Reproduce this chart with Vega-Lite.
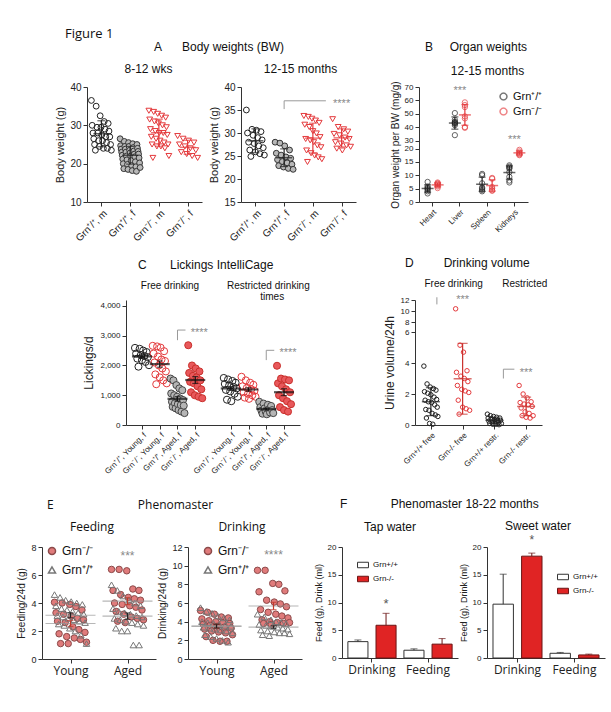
{
"$schema":"https://vega.github.io/schema/vega-lite/v6.json",
"autosize":"none",
"padding":{"left":41,"top":87,"right":570,"bottom":625},
"background":"white",
"config":{
 "view":{"stroke":null},
 "font":"Liberation Sans",
 "axis":{"grid":false,"domainColor":"#333","tickColor":"#333","labelColor":"#222","titleColor":"#222","labelFont":"Liberation Sans","titleFont":"Liberation Sans","titleFontWeight":"normal","tickSize":4,"labelPadding":2,"titlePadding":4,"labelOverlap":false},
 "title":{"font":"Liberation Sans","fontWeight":"normal","fontSize":12,"color":"#111","subtitleFont":"Liberation Sans","subtitleFontSize":10,"subtitleColor":"#111"},
 "legend":{"title":null,"labelFont":"Liberation Sans","labelColor":"#111"}
},
"title":{"text":"Figure 1","anchor":"start","frame":"group","dx":24,"offset":0,"font":"Open Sans","fontSize":13},
"datasets":{
 "bwYoung":[
  {"g":"Grn⁺/⁺, m","bw":36.5},{"g":"Grn⁺/⁺, m","bw":30},{"g":"Grn⁺/⁺, m","bw":28},{"g":"Grn⁺/⁺, m","bw":26.5},{"g":"Grn⁺/⁺, m","bw":25},{"g":"Grn⁺/⁺, m","bw":23.5},{"g":"Grn⁺/⁺, m","bw":35},{"g":"Grn⁺/⁺, m","bw":29.5},{"g":"Grn⁺/⁺, m","bw":28},{"g":"Grn⁺/⁺, m","bw":26},{"g":"Grn⁺/⁺, m","bw":24.5},{"g":"Grn⁺/⁺, m","bw":32.5},{"g":"Grn⁺/⁺, m","bw":29.5},{"g":"Grn⁺/⁺, m","bw":27.5},{"g":"Grn⁺/⁺, m","bw":26},{"g":"Grn⁺/⁺, m","bw":24},{"g":"Grn⁺/⁺, m","bw":31},{"g":"Grn⁺/⁺, m","bw":29},{"g":"Grn⁺/⁺, m","bw":27},{"g":"Grn⁺/⁺, m","bw":25.5},{"g":"Grn⁺/⁺, m","bw":24},{"g":"Grn⁺/⁺, m","bw":30.5},{"g":"Grn⁺/⁺, m","bw":28.5},{"g":"Grn⁺/⁺, m","bw":27},{"g":"Grn⁺/⁺, m","bw":25},{"g":"Grn⁺/⁺, m","bw":23.5},
  {"g":"Grn⁺/⁺, f","bw":26.5},{"g":"Grn⁺/⁺, f","bw":24.7},{"g":"Grn⁺/⁺, f","bw":23.8},{"g":"Grn⁺/⁺, f","bw":23},{"g":"Grn⁺/⁺, f","bw":22.2},{"g":"Grn⁺/⁺, f","bw":21.2},{"g":"Grn⁺/⁺, f","bw":20},{"g":"Grn⁺/⁺, f","bw":18.7},{"g":"Grn⁺/⁺, f","bw":25.8},{"g":"Grn⁺/⁺, f","bw":24.5},{"g":"Grn⁺/⁺, f","bw":23.8},{"g":"Grn⁺/⁺, f","bw":23},{"g":"Grn⁺/⁺, f","bw":22},{"g":"Grn⁺/⁺, f","bw":21},{"g":"Grn⁺/⁺, f","bw":19.8},{"g":"Grn⁺/⁺, f","bw":18.5},{"g":"Grn⁺/⁺, f","bw":25.5},{"g":"Grn⁺/⁺, f","bw":24.5},{"g":"Grn⁺/⁺, f","bw":23.5},{"g":"Grn⁺/⁺, f","bw":22.8},{"g":"Grn⁺/⁺, f","bw":22},{"g":"Grn⁺/⁺, f","bw":20.8},{"g":"Grn⁺/⁺, f","bw":19.5},{"g":"Grn⁺/⁺, f","bw":18.2},{"g":"Grn⁺/⁺, f","bw":25.2},{"g":"Grn⁺/⁺, f","bw":24.2},{"g":"Grn⁺/⁺, f","bw":23.3},{"g":"Grn⁺/⁺, f","bw":22.5},{"g":"Grn⁺/⁺, f","bw":21.8},{"g":"Grn⁺/⁺, f","bw":20.5},{"g":"Grn⁺/⁺, f","bw":19.2},{"g":"Grn⁺/⁺, f","bw":18},{"g":"Grn⁺/⁺, f","bw":25},{"g":"Grn⁺/⁺, f","bw":24},{"g":"Grn⁺/⁺, f","bw":23.2},{"g":"Grn⁺/⁺, f","bw":22.5},{"g":"Grn⁺/⁺, f","bw":21.5},{"g":"Grn⁺/⁺, f","bw":20.2},{"g":"Grn⁺/⁺, f","bw":19},
  {"g":"Grn⁻/⁻, m","bw":33.8},{"g":"Grn⁻/⁻, m","bw":31.5},{"g":"Grn⁻/⁻, m","bw":29},{"g":"Grn⁻/⁻, m","bw":27},{"g":"Grn⁻/⁻, m","bw":25},{"g":"Grn⁻/⁻, m","bw":21.5},{"g":"Grn⁻/⁻, m","bw":33.5},{"g":"Grn⁻/⁻, m","bw":31},{"g":"Grn⁻/⁻, m","bw":28.5},{"g":"Grn⁻/⁻, m","bw":26.5},{"g":"Grn⁻/⁻, m","bw":24.5},{"g":"Grn⁻/⁻, m","bw":33},{"g":"Grn⁻/⁻, m","bw":30.5},{"g":"Grn⁻/⁻, m","bw":28},{"g":"Grn⁻/⁻, m","bw":26},{"g":"Grn⁻/⁻, m","bw":24.5},{"g":"Grn⁻/⁻, m","bw":32.5},{"g":"Grn⁻/⁻, m","bw":30},{"g":"Grn⁻/⁻, m","bw":28},{"g":"Grn⁻/⁻, m","bw":25.5},{"g":"Grn⁻/⁻, m","bw":24},{"g":"Grn⁻/⁻, m","bw":32},{"g":"Grn⁻/⁻, m","bw":29.5},{"g":"Grn⁻/⁻, m","bw":27.5},{"g":"Grn⁻/⁻, m","bw":25},{"g":"Grn⁻/⁻, m","bw":22},
  {"g":"Grn⁻/⁻, f","bw":27.2},{"g":"Grn⁻/⁻, f","bw":25},{"g":"Grn⁻/⁻, f","bw":23},{"g":"Grn⁻/⁻, f","bw":26.5},{"g":"Grn⁻/⁻, f","bw":24.5},{"g":"Grn⁻/⁻, f","bw":22.5},{"g":"Grn⁻/⁻, f","bw":26},{"g":"Grn⁻/⁻, f","bw":24},{"g":"Grn⁻/⁻, f","bw":22},{"g":"Grn⁻/⁻, f","bw":25.5},{"g":"Grn⁻/⁻, f","bw":23.5},{"g":"Grn⁻/⁻, f","bw":21.5}
 ],
 "bwOld":[
  {"g":"Grn⁺/⁺, m","bw":35},{"g":"Grn⁺/⁺, m","bw":30},{"g":"Grn⁺/⁺, m","bw":28},{"g":"Grn⁺/⁺, m","bw":26.3},{"g":"Grn⁺/⁺, m","bw":24.9},{"g":"Grn⁺/⁺, m","bw":30.8},{"g":"Grn⁺/⁺, m","bw":29.5},{"g":"Grn⁺/⁺, m","bw":27.7},{"g":"Grn⁺/⁺, m","bw":25.9},{"g":"Grn⁺/⁺, m","bw":30.6},{"g":"Grn⁺/⁺, m","bw":29},{"g":"Grn⁺/⁺, m","bw":27.2},{"g":"Grn⁺/⁺, m","bw":25.5},{"g":"Grn⁺/⁺, m","bw":30.3},{"g":"Grn⁺/⁺, m","bw":28.5},{"g":"Grn⁺/⁺, m","bw":26.8},{"g":"Grn⁺/⁺, m","bw":25.2},
  {"g":"Grn⁺/⁺, f","bw":28},{"g":"Grn⁺/⁺, f","bw":25.6},{"g":"Grn⁺/⁺, f","bw":24.2},{"g":"Grn⁺/⁺, f","bw":22.9},{"g":"Grn⁺/⁺, f","bw":27.8},{"g":"Grn⁺/⁺, f","bw":25.2},{"g":"Grn⁺/⁺, f","bw":23.8},{"g":"Grn⁺/⁺, f","bw":22.6},{"g":"Grn⁺/⁺, f","bw":27.2},{"g":"Grn⁺/⁺, f","bw":24.8},{"g":"Grn⁺/⁺, f","bw":23.5},{"g":"Grn⁺/⁺, f","bw":22.3},{"g":"Grn⁺/⁺, f","bw":26.3},{"g":"Grn⁺/⁺, f","bw":24.5},{"g":"Grn⁺/⁺, f","bw":23.2},{"g":"Grn⁺/⁺, f","bw":22.1},
  {"g":"Grn⁻/⁻, m","bw":33.7},{"g":"Grn⁻/⁻, m","bw":31.8},{"g":"Grn⁻/⁻, m","bw":28.7},{"g":"Grn⁻/⁻, m","bw":26.2},{"g":"Grn⁻/⁻, m","bw":23.7},{"g":"Grn⁻/⁻, m","bw":33.5},{"g":"Grn⁻/⁻, m","bw":31.3},{"g":"Grn⁻/⁻, m","bw":28.4},{"g":"Grn⁻/⁻, m","bw":25.6},{"g":"Grn⁻/⁻, m","bw":33.1},{"g":"Grn⁻/⁻, m","bw":30.4},{"g":"Grn⁻/⁻, m","bw":28},{"g":"Grn⁻/⁻, m","bw":25.1},{"g":"Grn⁻/⁻, m","bw":32.7},{"g":"Grn⁻/⁻, m","bw":29.9},{"g":"Grn⁻/⁻, m","bw":27.3},{"g":"Grn⁻/⁻, m","bw":24.7},{"g":"Grn⁻/⁻, m","bw":32.2},{"g":"Grn⁻/⁻, m","bw":29.1},{"g":"Grn⁻/⁻, m","bw":26.9},{"g":"Grn⁻/⁻, m","bw":24.3},
  {"g":"Grn⁻/⁻, f","bw":33},{"g":"Grn⁻/⁻, f","bw":29.8},{"g":"Grn⁻/⁻, f","bw":28},{"g":"Grn⁻/⁻, f","bw":26.6},{"g":"Grn⁻/⁻, f","bw":31.3},{"g":"Grn⁻/⁻, f","bw":29.5},{"g":"Grn⁻/⁻, f","bw":27.7},{"g":"Grn⁻/⁻, f","bw":26.2},{"g":"Grn⁻/⁻, f","bw":30.8},{"g":"Grn⁻/⁻, f","bw":29},{"g":"Grn⁻/⁻, f","bw":27.3},{"g":"Grn⁻/⁻, f","bw":30.3},{"g":"Grn⁻/⁻, f","bw":28.7},{"g":"Grn⁻/⁻, f","bw":27}
 ],
 "organ":[
  {"organ":"Heart","geno":"Grn⁺/⁺","v":7.5},{"organ":"Heart","geno":"Grn⁺/⁺","v":5.8},{"organ":"Heart","geno":"Grn⁺/⁺","v":5.3},{"organ":"Heart","geno":"Grn⁺/⁺","v":5},{"organ":"Heart","geno":"Grn⁺/⁺","v":4.6},{"organ":"Heart","geno":"Grn⁺/⁺","v":4},{"organ":"Heart","geno":"Grn⁺/⁺","v":3.2},
  {"organ":"Heart","geno":"Grn⁻/⁻","v":7.3},{"organ":"Heart","geno":"Grn⁻/⁻","v":7},{"organ":"Heart","geno":"Grn⁻/⁻","v":6.8},{"organ":"Heart","geno":"Grn⁻/⁻","v":6.5},{"organ":"Heart","geno":"Grn⁻/⁻","v":6.2},{"organ":"Heart","geno":"Grn⁻/⁻","v":5.8},{"organ":"Heart","geno":"Grn⁻/⁻","v":5.2},
  {"organ":"Liver","geno":"Grn⁺/⁺","v":50.5},{"organ":"Liver","geno":"Grn⁺/⁺","v":45.5},{"organ":"Liver","geno":"Grn⁺/⁺","v":44},{"organ":"Liver","geno":"Grn⁺/⁺","v":43.5},{"organ":"Liver","geno":"Grn⁺/⁺","v":43},{"organ":"Liver","geno":"Grn⁺/⁺","v":42.5},{"organ":"Liver","geno":"Grn⁺/⁺","v":41.5},{"organ":"Liver","geno":"Grn⁺/⁺","v":34},
  {"organ":"Liver","geno":"Grn⁻/⁻","v":58.5},{"organ":"Liver","geno":"Grn⁻/⁻","v":56.5},{"organ":"Liver","geno":"Grn⁻/⁻","v":55},{"organ":"Liver","geno":"Grn⁻/⁻","v":48},{"organ":"Liver","geno":"Grn⁻/⁻","v":46.5},{"organ":"Liver","geno":"Grn⁻/⁻","v":40},{"organ":"Liver","geno":"Grn⁻/⁻","v":39.5},
  {"organ":"Spleen","geno":"Grn⁺/⁺","v":10.5},{"organ":"Spleen","geno":"Grn⁺/⁺","v":10},{"organ":"Spleen","geno":"Grn⁺/⁺","v":7},{"organ":"Spleen","geno":"Grn⁺/⁺","v":5.5},{"organ":"Spleen","geno":"Grn⁺/⁺","v":5},{"organ":"Spleen","geno":"Grn⁺/⁺","v":4.5},{"organ":"Spleen","geno":"Grn⁺/⁺","v":4},
  {"organ":"Spleen","geno":"Grn⁻/⁻","v":9},{"organ":"Spleen","geno":"Grn⁻/⁻","v":8.7},{"organ":"Spleen","geno":"Grn⁻/⁻","v":5.6},{"organ":"Spleen","geno":"Grn⁻/⁻","v":5},{"organ":"Spleen","geno":"Grn⁻/⁻","v":4.4},{"organ":"Spleen","geno":"Grn⁻/⁻","v":4.2},
  {"organ":"Kidneys","geno":"Grn⁺/⁺","v":13.7},{"organ":"Kidneys","geno":"Grn⁺/⁺","v":13.2},{"organ":"Kidneys","geno":"Grn⁺/⁺","v":12.8},{"organ":"Kidneys","geno":"Grn⁺/⁺","v":12.5},{"organ":"Kidneys","geno":"Grn⁺/⁺","v":11.2},{"organ":"Kidneys","geno":"Grn⁺/⁺","v":9.4},{"organ":"Kidneys","geno":"Grn⁺/⁺","v":8},{"organ":"Kidneys","geno":"Grn⁺/⁺","v":7.3},
  {"organ":"Kidneys","geno":"Grn⁻/⁻","v":19.5},{"organ":"Kidneys","geno":"Grn⁻/⁻","v":18.9},{"organ":"Kidneys","geno":"Grn⁻/⁻","v":18.4},{"organ":"Kidneys","geno":"Grn⁻/⁻","v":18.1},{"organ":"Kidneys","geno":"Grn⁻/⁻","v":17.8},{"organ":"Kidneys","geno":"Grn⁻/⁻","v":17.5}
 ],
 "lick":[
  {"g":"Grn⁺/⁺, Young, f|1","v":2590},{"g":"Grn⁺/⁺, Young, f|1","v":2400},{"g":"Grn⁺/⁺, Young, f|1","v":2230},{"g":"Grn⁺/⁺, Young, f|1","v":1960},{"g":"Grn⁺/⁺, Young, f|1","v":2560},{"g":"Grn⁺/⁺, Young, f|1","v":2350},{"g":"Grn⁺/⁺, Young, f|1","v":2180},{"g":"Grn⁺/⁺, Young, f|1","v":2500},{"g":"Grn⁺/⁺, Young, f|1","v":2320},{"g":"Grn⁺/⁺, Young, f|1","v":2120},{"g":"Grn⁺/⁺, Young, f|1","v":2450},{"g":"Grn⁺/⁺, Young, f|1","v":2280},{"g":"Grn⁺/⁺, Young, f|1","v":2010},
  {"g":"Grn⁻/⁻, Young, f|2","v":2660},{"g":"Grn⁻/⁻, Young, f|2","v":2400},{"g":"Grn⁻/⁻, Young, f|2","v":2100},{"g":"Grn⁻/⁻, Young, f|2","v":1700},{"g":"Grn⁻/⁻, Young, f|2","v":1370},{"g":"Grn⁻/⁻, Young, f|2","v":2640},{"g":"Grn⁻/⁻, Young, f|2","v":2300},{"g":"Grn⁻/⁻, Young, f|2","v":2000},{"g":"Grn⁻/⁻, Young, f|2","v":1600},{"g":"Grn⁻/⁻, Young, f|2","v":2600},{"g":"Grn⁻/⁻, Young, f|2","v":2200},{"g":"Grn⁻/⁻, Young, f|2","v":1900},{"g":"Grn⁻/⁻, Young, f|2","v":1500},{"g":"Grn⁻/⁻, Young, f|2","v":2480},{"g":"Grn⁻/⁻, Young, f|2","v":2150},{"g":"Grn⁻/⁻, Young, f|2","v":1800},{"g":"Grn⁻/⁻, Young, f|2","v":1400},
  {"g":"Grn⁺/⁺, Aged, f|3","v":1560},{"g":"Grn⁺/⁺, Aged, f|3","v":1060},{"g":"Grn⁺/⁺, Aged, f|3","v":780},{"g":"Grn⁺/⁺, Aged, f|3","v":610},{"g":"Grn⁺/⁺, Aged, f|3","v":1500},{"g":"Grn⁺/⁺, Aged, f|3","v":1000},{"g":"Grn⁺/⁺, Aged, f|3","v":730},{"g":"Grn⁺/⁺, Aged, f|3","v":560},{"g":"Grn⁺/⁺, Aged, f|3","v":1340},{"g":"Grn⁺/⁺, Aged, f|3","v":950},{"g":"Grn⁺/⁺, Aged, f|3","v":700},{"g":"Grn⁺/⁺, Aged, f|3","v":500},{"g":"Grn⁺/⁺, Aged, f|3","v":1230},{"g":"Grn⁺/⁺, Aged, f|3","v":890},{"g":"Grn⁺/⁺, Aged, f|3","v":670},{"g":"Grn⁺/⁺, Aged, f|3","v":450},{"g":"Grn⁺/⁺, Aged, f|3","v":1170},{"g":"Grn⁺/⁺, Aged, f|3","v":840},{"g":"Grn⁺/⁺, Aged, f|3","v":650},{"g":"Grn⁺/⁺, Aged, f|3","v":400},
  {"g":"Grn⁻/⁻, Aged, f|4","v":2680},{"g":"Grn⁻/⁻, Aged, f|4","v":1750},{"g":"Grn⁻/⁻, Aged, f|4","v":1450},{"g":"Grn⁻/⁻, Aged, f|4","v":1100},{"g":"Grn⁻/⁻, Aged, f|4","v":2000},{"g":"Grn⁻/⁻, Aged, f|4","v":1650},{"g":"Grn⁻/⁻, Aged, f|4","v":1400},{"g":"Grn⁻/⁻, Aged, f|4","v":1000},{"g":"Grn⁻/⁻, Aged, f|4","v":1900},{"g":"Grn⁻/⁻, Aged, f|4","v":1600},{"g":"Grn⁻/⁻, Aged, f|4","v":1300},{"g":"Grn⁻/⁻, Aged, f|4","v":950},{"g":"Grn⁻/⁻, Aged, f|4","v":1800},{"g":"Grn⁻/⁻, Aged, f|4","v":1500},{"g":"Grn⁻/⁻, Aged, f|4","v":1200},{"g":"Grn⁻/⁻, Aged, f|4","v":900},
  {"g":"Grn⁺/⁺, Young, f|5","v":1580},{"g":"Grn⁺/⁺, Young, f|5","v":1380},{"g":"Grn⁺/⁺, Young, f|5","v":1180},{"g":"Grn⁺/⁺, Young, f|5","v":850},{"g":"Grn⁺/⁺, Young, f|5","v":1530},{"g":"Grn⁺/⁺, Young, f|5","v":1330},{"g":"Grn⁺/⁺, Young, f|5","v":1130},{"g":"Grn⁺/⁺, Young, f|5","v":800},{"g":"Grn⁺/⁺, Young, f|5","v":1480},{"g":"Grn⁺/⁺, Young, f|5","v":1280},{"g":"Grn⁺/⁺, Young, f|5","v":1050},{"g":"Grn⁺/⁺, Young, f|5","v":1420},{"g":"Grn⁺/⁺, Young, f|5","v":1230},{"g":"Grn⁺/⁺, Young, f|5","v":950},
  {"g":"Grn⁻/⁻, Young, f|6","v":1620},{"g":"Grn⁻/⁻, Young, f|6","v":1300},{"g":"Grn⁻/⁻, Young, f|6","v":1100},{"g":"Grn⁻/⁻, Young, f|6","v":920},{"g":"Grn⁻/⁻, Young, f|6","v":1500},{"g":"Grn⁻/⁻, Young, f|6","v":1250},{"g":"Grn⁻/⁻, Young, f|6","v":1050},{"g":"Grn⁻/⁻, Young, f|6","v":880},{"g":"Grn⁻/⁻, Young, f|6","v":1420},{"g":"Grn⁻/⁻, Young, f|6","v":1200},{"g":"Grn⁻/⁻, Young, f|6","v":1000},{"g":"Grn⁻/⁻, Young, f|6","v":1350},{"g":"Grn⁻/⁻, Young, f|6","v":1150},{"g":"Grn⁻/⁻, Young, f|6","v":950},
  {"g":"Grn⁺/⁺, Aged, f|7","v":780},{"g":"Grn⁺/⁺, Aged, f|7","v":600},{"g":"Grn⁺/⁺, Aged, f|7","v":480},{"g":"Grn⁺/⁺, Aged, f|7","v":380},{"g":"Grn⁺/⁺, Aged, f|7","v":720},{"g":"Grn⁺/⁺, Aged, f|7","v":560},{"g":"Grn⁺/⁺, Aged, f|7","v":450},{"g":"Grn⁺/⁺, Aged, f|7","v":360},{"g":"Grn⁺/⁺, Aged, f|7","v":680},{"g":"Grn⁺/⁺, Aged, f|7","v":530},{"g":"Grn⁺/⁺, Aged, f|7","v":420},{"g":"Grn⁺/⁺, Aged, f|7","v":640},{"g":"Grn⁺/⁺, Aged, f|7","v":500},{"g":"Grn⁺/⁺, Aged, f|7","v":400},
  {"g":"Grn⁻/⁻, Aged, f|8","v":1990},{"g":"Grn⁻/⁻, Aged, f|8","v":1400},{"g":"Grn⁻/⁻, Aged, f|8","v":1000},{"g":"Grn⁻/⁻, Aged, f|8","v":600},{"g":"Grn⁻/⁻, Aged, f|8","v":1560},{"g":"Grn⁻/⁻, Aged, f|8","v":1300},{"g":"Grn⁻/⁻, Aged, f|8","v":900},{"g":"Grn⁻/⁻, Aged, f|8","v":500},{"g":"Grn⁻/⁻, Aged, f|8","v":1530},{"g":"Grn⁻/⁻, Aged, f|8","v":1200},{"g":"Grn⁻/⁻, Aged, f|8","v":800},{"g":"Grn⁻/⁻, Aged, f|8","v":450},{"g":"Grn⁻/⁻, Aged, f|8","v":1500},{"g":"Grn⁻/⁻, Aged, f|8","v":1100},{"g":"Grn⁻/⁻, Aged, f|8","v":700}
 ],
 "urine":[
  {"g":"Grn+/+ free","v":3.8},{"g":"Grn+/+ free","v":2.15},{"g":"Grn+/+ free","v":1.6},{"g":"Grn+/+ free","v":1.0},{"g":"Grn+/+ free","v":0.45},{"g":"Grn+/+ free","v":2.65},{"g":"Grn+/+ free","v":2.05},{"g":"Grn+/+ free","v":1.5},{"g":"Grn+/+ free","v":0.95},{"g":"Grn+/+ free","v":0.1},{"g":"Grn+/+ free","v":2.45},{"g":"Grn+/+ free","v":1.95},{"g":"Grn+/+ free","v":1.45},{"g":"Grn+/+ free","v":0.75},{"g":"Grn+/+ free","v":0.05},{"g":"Grn+/+ free","v":2.35},{"g":"Grn+/+ free","v":1.8},{"g":"Grn+/+ free","v":1.3},{"g":"Grn+/+ free","v":0.65},{"g":"Grn+/+ free","v":2.25},{"g":"Grn+/+ free","v":1.65},{"g":"Grn+/+ free","v":1.15},{"g":"Grn+/+ free","v":0.55},
  {"g":"Grn-/- free","v":10.4},{"g":"Grn-/- free","v":3.4},{"g":"Grn-/- free","v":2.55},{"g":"Grn-/- free","v":1.6},{"g":"Grn-/- free","v":0.7},{"g":"Grn-/- free","v":5.15},{"g":"Grn-/- free","v":3.15},{"g":"Grn-/- free","v":2.3},{"g":"Grn-/- free","v":1.15},{"g":"Grn-/- free","v":4.7},{"g":"Grn-/- free","v":3.0},{"g":"Grn-/- free","v":2.2},{"g":"Grn-/- free","v":1.05},{"g":"Grn-/- free","v":3.5},{"g":"Grn-/- free","v":2.8},{"g":"Grn-/- free","v":2.1},{"g":"Grn-/- free","v":0.95},
  {"g":"Grn+/+ restr.","v":0.7},{"g":"Grn+/+ restr.","v":0.45},{"g":"Grn+/+ restr.","v":0.25},{"g":"Grn+/+ restr.","v":0.1},{"g":"Grn+/+ restr.","v":0.6},{"g":"Grn+/+ restr.","v":0.4},{"g":"Grn+/+ restr.","v":0.2},{"g":"Grn+/+ restr.","v":0.05},{"g":"Grn+/+ restr.","v":0.55},{"g":"Grn+/+ restr.","v":0.35},{"g":"Grn+/+ restr.","v":0.2},{"g":"Grn+/+ restr.","v":0.05},{"g":"Grn+/+ restr.","v":0.5},{"g":"Grn+/+ restr.","v":0.3},{"g":"Grn+/+ restr.","v":0.15},{"g":"Grn+/+ restr.","v":0.02},{"g":"Grn+/+ restr.","v":0.45},{"g":"Grn+/+ restr.","v":0.3},{"g":"Grn+/+ restr.","v":0.1},
  {"g":"Grn-/- restr.","v":2.55},{"g":"Grn-/- restr.","v":1.45},{"g":"Grn-/- restr.","v":1.1},{"g":"Grn-/- restr.","v":0.6},{"g":"Grn-/- restr.","v":2.0},{"g":"Grn-/- restr.","v":1.35},{"g":"Grn-/- restr.","v":0.85},{"g":"Grn-/- restr.","v":0.5},{"g":"Grn-/- restr.","v":1.75},{"g":"Grn-/- restr.","v":1.3},{"g":"Grn-/- restr.","v":0.75},{"g":"Grn-/- restr.","v":0.45},{"g":"Grn-/- restr.","v":1.5},{"g":"Grn-/- restr.","v":1.2},{"g":"Grn-/- restr.","v":0.6}
 ],
 "eFeed":[
  {"age":"Young","geno":"Grn⁻/⁻","v":4.05},{"age":"Young","geno":"Grn⁻/⁻","v":3.3},{"age":"Young","geno":"Grn⁻/⁻","v":2.7},{"age":"Young","geno":"Grn⁻/⁻","v":1.8},{"age":"Young","geno":"Grn⁻/⁻","v":1.1},{"age":"Young","geno":"Grn⁻/⁻","v":4.0},{"age":"Young","geno":"Grn⁻/⁻","v":3.2},{"age":"Young","geno":"Grn⁻/⁻","v":2.6},{"age":"Young","geno":"Grn⁻/⁻","v":1.6},{"age":"Young","geno":"Grn⁻/⁻","v":1.1},{"age":"Young","geno":"Grn⁻/⁻","v":3.9},{"age":"Young","geno":"Grn⁻/⁻","v":3.05},{"age":"Young","geno":"Grn⁻/⁻","v":2.3},{"age":"Young","geno":"Grn⁻/⁻","v":1.5},{"age":"Young","geno":"Grn⁻/⁻","v":3.75},{"age":"Young","geno":"Grn⁻/⁻","v":2.9},{"age":"Young","geno":"Grn⁻/⁻","v":2.1},{"age":"Young","geno":"Grn⁻/⁻","v":1.4},{"age":"Young","geno":"Grn⁻/⁻","v":3.5},{"age":"Young","geno":"Grn⁻/⁻","v":2.8},{"age":"Young","geno":"Grn⁻/⁻","v":1.9},{"age":"Young","geno":"Grn⁻/⁻","v":1.2},
  {"age":"Young","geno":"Grn⁺/⁺","v":4.6},{"age":"Young","geno":"Grn⁺/⁺","v":3.8},{"age":"Young","geno":"Grn⁺/⁺","v":3.1},{"age":"Young","geno":"Grn⁺/⁺","v":2.5},{"age":"Young","geno":"Grn⁺/⁺","v":4.4},{"age":"Young","geno":"Grn⁺/⁺","v":3.6},{"age":"Young","geno":"Grn⁺/⁺","v":3.0},{"age":"Young","geno":"Grn⁺/⁺","v":2.4},{"age":"Young","geno":"Grn⁺/⁺","v":4.2},{"age":"Young","geno":"Grn⁺/⁺","v":3.5},{"age":"Young","geno":"Grn⁺/⁺","v":2.9},{"age":"Young","geno":"Grn⁺/⁺","v":2.2},{"age":"Young","geno":"Grn⁺/⁺","v":4.1},{"age":"Young","geno":"Grn⁺/⁺","v":3.4},{"age":"Young","geno":"Grn⁺/⁺","v":2.8},{"age":"Young","geno":"Grn⁺/⁺","v":2.0},{"age":"Young","geno":"Grn⁺/⁺","v":4.0},{"age":"Young","geno":"Grn⁺/⁺","v":3.3},{"age":"Young","geno":"Grn⁺/⁺","v":2.7},{"age":"Young","geno":"Grn⁺/⁺","v":1.7},{"age":"Young","geno":"Grn⁺/⁺","v":3.9},{"age":"Young","geno":"Grn⁺/⁺","v":3.2},{"age":"Young","geno":"Grn⁺/⁺","v":2.6},{"age":"Young","geno":"Grn⁺/⁺","v":1.1},
  {"age":"Aged","geno":"Grn⁻/⁻","v":6.4},{"age":"Aged","geno":"Grn⁻/⁻","v":4.9},{"age":"Aged","geno":"Grn⁻/⁻","v":4.0},{"age":"Aged","geno":"Grn⁻/⁻","v":3.4},{"age":"Aged","geno":"Grn⁻/⁻","v":2.7},{"age":"Aged","geno":"Grn⁻/⁻","v":6.4},{"age":"Aged","geno":"Grn⁻/⁻","v":4.6},{"age":"Aged","geno":"Grn⁻/⁻","v":3.9},{"age":"Aged","geno":"Grn⁻/⁻","v":3.2},{"age":"Aged","geno":"Grn⁻/⁻","v":2.6},{"age":"Aged","geno":"Grn⁻/⁻","v":6.3},{"age":"Aged","geno":"Grn⁻/⁻","v":4.4},{"age":"Aged","geno":"Grn⁻/⁻","v":3.8},{"age":"Aged","geno":"Grn⁻/⁻","v":3.0},{"age":"Aged","geno":"Grn⁻/⁻","v":5.0},{"age":"Aged","geno":"Grn⁻/⁻","v":4.3},{"age":"Aged","geno":"Grn⁻/⁻","v":3.7},{"age":"Aged","geno":"Grn⁻/⁻","v":2.9},{"age":"Aged","geno":"Grn⁻/⁻","v":4.9},{"age":"Aged","geno":"Grn⁻/⁻","v":4.2},{"age":"Aged","geno":"Grn⁻/⁻","v":3.5},{"age":"Aged","geno":"Grn⁻/⁻","v":2.8},
  {"age":"Aged","geno":"Grn⁺/⁺","v":5.3},{"age":"Aged","geno":"Grn⁺/⁺","v":3.6},{"age":"Aged","geno":"Grn⁺/⁺","v":2.9},{"age":"Aged","geno":"Grn⁺/⁺","v":2.2},{"age":"Aged","geno":"Grn⁺/⁺","v":4.9},{"age":"Aged","geno":"Grn⁺/⁺","v":3.4},{"age":"Aged","geno":"Grn⁺/⁺","v":2.8},{"age":"Aged","geno":"Grn⁺/⁺","v":2.0},{"age":"Aged","geno":"Grn⁺/⁺","v":4.5},{"age":"Aged","geno":"Grn⁺/⁺","v":3.3},{"age":"Aged","geno":"Grn⁺/⁺","v":2.7},{"age":"Aged","geno":"Grn⁺/⁺","v":2.0},{"age":"Aged","geno":"Grn⁺/⁺","v":4.2},{"age":"Aged","geno":"Grn⁺/⁺","v":3.2},{"age":"Aged","geno":"Grn⁺/⁺","v":2.6},{"age":"Aged","geno":"Grn⁺/⁺","v":1.0},{"age":"Aged","geno":"Grn⁺/⁺","v":4.0},{"age":"Aged","geno":"Grn⁺/⁺","v":3.1},{"age":"Aged","geno":"Grn⁺/⁺","v":2.5},{"age":"Aged","geno":"Grn⁺/⁺","v":1.0},{"age":"Aged","geno":"Grn⁺/⁺","v":3.8},{"age":"Aged","geno":"Grn⁺/⁺","v":3.0},{"age":"Aged","geno":"Grn⁺/⁺","v":2.4}
 ],
 "eDrink":[
  {"age":"Young","geno":"Grn⁻/⁻","v":5.2},{"age":"Young","geno":"Grn⁻/⁻","v":4.3},{"age":"Young","geno":"Grn⁻/⁻","v":3.7},{"age":"Young","geno":"Grn⁻/⁻","v":3.2},{"age":"Young","geno":"Grn⁻/⁻","v":2.4},{"age":"Young","geno":"Grn⁻/⁻","v":5.0},{"age":"Young","geno":"Grn⁻/⁻","v":4.1},{"age":"Young","geno":"Grn⁻/⁻","v":3.6},{"age":"Young","geno":"Grn⁻/⁻","v":3.0},{"age":"Young","geno":"Grn⁻/⁻","v":2.0},{"age":"Young","geno":"Grn⁻/⁻","v":4.8},{"age":"Young","geno":"Grn⁻/⁻","v":4.0},{"age":"Young","geno":"Grn⁻/⁻","v":3.5},{"age":"Young","geno":"Grn⁻/⁻","v":2.9},{"age":"Young","geno":"Grn⁻/⁻","v":1.9},{"age":"Young","geno":"Grn⁻/⁻","v":4.5},{"age":"Young","geno":"Grn⁻/⁻","v":3.9},{"age":"Young","geno":"Grn⁻/⁻","v":3.4},{"age":"Young","geno":"Grn⁻/⁻","v":2.8},{"age":"Young","geno":"Grn⁻/⁻","v":1.9},{"age":"Young","geno":"Grn⁻/⁻","v":4.4},{"age":"Young","geno":"Grn⁻/⁻","v":3.8},{"age":"Young","geno":"Grn⁻/⁻","v":3.3},{"age":"Young","geno":"Grn⁻/⁻","v":2.6},
  {"age":"Young","geno":"Grn⁺/⁺","v":5.5},{"age":"Young","geno":"Grn⁺/⁺","v":4.0},{"age":"Young","geno":"Grn⁺/⁺","v":3.4},{"age":"Young","geno":"Grn⁺/⁺","v":2.6},{"age":"Young","geno":"Grn⁺/⁺","v":5.1},{"age":"Young","geno":"Grn⁺/⁺","v":3.9},{"age":"Young","geno":"Grn⁺/⁺","v":3.3},{"age":"Young","geno":"Grn⁺/⁺","v":2.4},{"age":"Young","geno":"Grn⁺/⁺","v":4.9},{"age":"Young","geno":"Grn⁺/⁺","v":3.8},{"age":"Young","geno":"Grn⁺/⁺","v":3.2},{"age":"Young","geno":"Grn⁺/⁺","v":2.2},{"age":"Young","geno":"Grn⁺/⁺","v":4.6},{"age":"Young","geno":"Grn⁺/⁺","v":3.7},{"age":"Young","geno":"Grn⁺/⁺","v":3.1},{"age":"Young","geno":"Grn⁺/⁺","v":2.0},{"age":"Young","geno":"Grn⁺/⁺","v":4.4},{"age":"Young","geno":"Grn⁺/⁺","v":3.6},{"age":"Young","geno":"Grn⁺/⁺","v":3.0},{"age":"Young","geno":"Grn⁺/⁺","v":1.8},{"age":"Young","geno":"Grn⁺/⁺","v":4.2},{"age":"Young","geno":"Grn⁺/⁺","v":3.5},{"age":"Young","geno":"Grn⁺/⁺","v":2.8},
  {"age":"Aged","geno":"Grn⁻/⁻","v":9.5},{"age":"Aged","geno":"Grn⁻/⁻","v":7.2},{"age":"Aged","geno":"Grn⁻/⁻","v":5.3},{"age":"Aged","geno":"Grn⁻/⁻","v":4.2},{"age":"Aged","geno":"Grn⁻/⁻","v":3.8},{"age":"Aged","geno":"Grn⁻/⁻","v":9.5},{"age":"Aged","geno":"Grn⁻/⁻","v":6.3},{"age":"Aged","geno":"Grn⁻/⁻","v":5.0},{"age":"Aged","geno":"Grn⁻/⁻","v":4.0},{"age":"Aged","geno":"Grn⁻/⁻","v":3.7},{"age":"Aged","geno":"Grn⁻/⁻","v":8.1},{"age":"Aged","geno":"Grn⁻/⁻","v":6.1},{"age":"Aged","geno":"Grn⁻/⁻","v":4.8},{"age":"Aged","geno":"Grn⁻/⁻","v":3.9},{"age":"Aged","geno":"Grn⁻/⁻","v":8.0},{"age":"Aged","geno":"Grn⁻/⁻","v":5.9},{"age":"Aged","geno":"Grn⁻/⁻","v":4.6},{"age":"Aged","geno":"Grn⁻/⁻","v":3.8},{"age":"Aged","geno":"Grn⁻/⁻","v":7.3},{"age":"Aged","geno":"Grn⁻/⁻","v":5.6},{"age":"Aged","geno":"Grn⁻/⁻","v":4.4},{"age":"Aged","geno":"Grn⁻/⁻","v":3.9},
  {"age":"Aged","geno":"Grn⁺/⁺","v":4.8},{"age":"Aged","geno":"Grn⁺/⁺","v":3.7},{"age":"Aged","geno":"Grn⁺/⁺","v":3.1},{"age":"Aged","geno":"Grn⁺/⁺","v":2.6},{"age":"Aged","geno":"Grn⁺/⁺","v":4.5},{"age":"Aged","geno":"Grn⁺/⁺","v":3.6},{"age":"Aged","geno":"Grn⁺/⁺","v":3.0},{"age":"Aged","geno":"Grn⁺/⁺","v":2.5},{"age":"Aged","geno":"Grn⁺/⁺","v":4.2},{"age":"Aged","geno":"Grn⁺/⁺","v":3.5},{"age":"Aged","geno":"Grn⁺/⁺","v":2.9},{"age":"Aged","geno":"Grn⁺/⁺","v":4.0},{"age":"Aged","geno":"Grn⁺/⁺","v":3.4},{"age":"Aged","geno":"Grn⁺/⁺","v":2.8},{"age":"Aged","geno":"Grn⁺/⁺","v":3.9},{"age":"Aged","geno":"Grn⁺/⁺","v":3.3},{"age":"Aged","geno":"Grn⁺/⁺","v":2.8},{"age":"Aged","geno":"Grn⁺/⁺","v":3.8},{"age":"Aged","geno":"Grn⁺/⁺","v":3.2},{"age":"Aged","geno":"Grn⁺/⁺","v":2.7}
 ],
 "fTap":[
  {"cond":"Drinking","geno":"Grn+/+","v":2.95,"hi":3.25},{"cond":"Drinking","geno":"Grn-/-","v":5.9,"hi":8.05},{"cond":"Feeding","geno":"Grn+/+","v":1.4,"hi":1.65},{"cond":"Feeding","geno":"Grn-/-","v":2.5,"hi":3.5}
 ],
 "fSweet":[
  {"cond":"Drinking","geno":"Grn+/+","v":9.7,"hi":15.1},{"cond":"Drinking","geno":"Grn-/-","v":18.35,"hi":18.9},{"cond":"Feeding","geno":"Grn+/+","v":0.85,"hi":1.0},{"cond":"Feeding","geno":"Grn-/-","v":0.55,"hi":0.7}
 ]
},
"bounds":"flush",
"spacing":460,
"resolve":{"scale":{"color":"independent","fill":"independent","stroke":"independent","shape":"independent"},"legend":{"color":"independent","fill":"independent","stroke":"independent","shape":"independent"}},
"vconcat":[
 {"bounds":"flush","spacing":213,
  "resolve":{"scale":{"color":"independent","fill":"independent","stroke":"independent","shape":"independent"},"legend":{"color":"independent","fill":"independent","stroke":"independent","shape":"independent"}},
  "vconcat":[
  {"bounds":"flush","spacing":0,
   "resolve":{"scale":{"color":"independent","fill":"independent","stroke":"independent","shape":"independent"},"legend":{"color":"independent","fill":"independent","stroke":"independent","shape":"independent"}},
   "hconcat":[
   {"width":46,"height":115,"title":{"text":"A\u00a0\u00a0\u00a0\u00a0\u00a0\u00a0Body weights (BW)","anchor":"start","frame":"group","dx":113,"offset":33},"data":{"values":[{"a":1}]},"mark":{"type":"point","opacity":0},"encoding":{}},
   {"width":115,"height":115,
    "title":{"text":"8-12 wks","anchor":"middle","frame":"group","dx":4,"offset":6},
    "data":{"name":"bwYoung"},
    "transform":[{"window":[{"op":"row_number","as":"rn"}],"groupby":["g"]},{"window":[{"op":"percent_rank","as":"jit"}],"groupby":["g"],"sort":[{"field":"rn"}]}],
    "encoding":{
     "x":{"field":"g","type":"nominal","scale":{"type":"point","padding":0.5,"domain":["Grn⁺/⁺, m","Grn⁺/⁺, f","Grn⁻/⁻, m","Grn⁻/⁻, f"]},"axis":{"title":null,"labelAngle":-45,"labelFontSize":10}},
     "y":{"field":"bw","type":"quantitative","scale":{"domain":[10,40],"nice":false,"zero":false},"axis":{"values":[10,20,30,40],"title":"Body weight (g)","labelFontSize":10,"titleFontSize":11}}
    },
    "layer":[
     {"mark":{"type":"point","size":34,"strokeWidth":1,"opacity":1},
      "encoding":{
       "xOffset":{"field":"jit","type":"quantitative","scale":{"domain":[0,1],"range":[-10,10]}},
       "shape":{"field":"g","type":"nominal","scale":{"domain":["Grn⁺/⁺, m","Grn⁺/⁺, f","Grn⁻/⁻, m","Grn⁻/⁻, f"],"range":["circle","circle","triangle-down","triangle-down"]},"legend":null},
       "fill":{"field":"g","type":"nominal","scale":{"domain":["Grn⁺/⁺, m","Grn⁺/⁺, f","Grn⁻/⁻, m","Grn⁻/⁻, f"],"range":["transparent","#b8b8b8","transparent","transparent"]},"legend":null},
       "stroke":{"field":"g","type":"nominal","scale":{"domain":["Grn⁺/⁺, m","Grn⁺/⁺, f","Grn⁻/⁻, m","Grn⁻/⁻, f"],"range":["#222","#333","#e4393c","#e4393c"]},"legend":null}}},
     {"mark":{"type":"errorbar","extent":"stdev","ticks":{"size":8},"thickness":1.2},
      "encoding":{"color":{"field":"g","type":"nominal","scale":{"domain":["Grn⁺/⁺, m","Grn⁺/⁺, f","Grn⁻/⁻, m","Grn⁻/⁻, f"],"range":["#222","#222","#e4393c","#e4393c"]},"legend":null}}},
     {"transform":[{"aggregate":[{"op":"mean","field":"bw","as":"bw"}],"groupby":["g"]}],
      "mark":{"type":"tick","size":16,"thickness":1.5},
      "encoding":{"color":{"field":"g","type":"nominal","legend":null}}}
    ]},
   {"width":39,"height":115,"data":{"values":[{"a":1}]},"mark":{"type":"point","opacity":0},"encoding":{}},
   {"width":115,"height":115,
    "title":{"text":"12-15 months","anchor":"middle","frame":"group","dx":2,"offset":6},
    "data":{"name":"bwOld"},
    "transform":[{"window":[{"op":"row_number","as":"rn"}],"groupby":["g"]},{"window":[{"op":"percent_rank","as":"jit"}],"groupby":["g"],"sort":[{"field":"rn"}]}],
    "encoding":{
     "x":{"field":"g","type":"nominal","scale":{"type":"point","padding":0.5,"domain":["Grn⁺/⁺, m","Grn⁺/⁺, f","Grn⁻/⁻, m","Grn⁻/⁻, f"]},"axis":{"title":null,"labelAngle":-45,"labelFontSize":10}},
     "y":{"field":"bw","type":"quantitative","scale":{"domain":[15,40],"nice":false,"zero":false},"axis":{"values":[15,20,25,30,35,40],"title":"Body weight (g)","labelFontSize":10,"titleFontSize":11}}
    },
    "layer":[
     {"mark":{"type":"point","size":34,"strokeWidth":1,"opacity":1},
      "encoding":{
       "xOffset":{"field":"jit","type":"quantitative","scale":{"domain":[0,1],"range":[-9,9]}},
       "shape":{"field":"g","type":"nominal","scale":{"domain":["Grn⁺/⁺, m","Grn⁺/⁺, f","Grn⁻/⁻, m","Grn⁻/⁻, f"],"range":["circle","circle","triangle-down","triangle-down"]},"legend":null},
       "fill":{"field":"g","type":"nominal","scale":{"domain":["Grn⁺/⁺, m","Grn⁺/⁺, f","Grn⁻/⁻, m","Grn⁻/⁻, f"],"range":["transparent","#b8b8b8","transparent","transparent"]},"legend":null},
       "stroke":{"field":"g","type":"nominal","scale":{"domain":["Grn⁺/⁺, m","Grn⁺/⁺, f","Grn⁻/⁻, m","Grn⁻/⁻, f"],"range":["#222","#333","#e4393c","#e4393c"]},"legend":null}}},
     {"mark":{"type":"errorbar","extent":"stdev","ticks":{"size":8},"thickness":1.2},
      "encoding":{"color":{"field":"g","type":"nominal","scale":{"domain":["Grn⁺/⁺, m","Grn⁺/⁺, f","Grn⁻/⁻, m","Grn⁻/⁻, f"],"range":["#222","#222","#e4393c","#e4393c"]},"legend":null}}},
     {"transform":[{"aggregate":[{"op":"mean","field":"bw","as":"bw"}],"groupby":["g"]}],
      "mark":{"type":"tick","size":16,"thickness":1.5},
      "encoding":{"color":{"field":"g","type":"nominal","legend":null}}},
     {"data":{"values":[{"g":"Grn⁺/⁺, f","bw":37,"bw2":35.2}]},"mark":{"type":"rule","color":"#999","strokeWidth":1},"encoding":{"y2":{"field":"bw2"}}},
     {"data":{"values":[{"g":"Grn⁺/⁺, f","g2":"Grn⁻/⁻, m","bw":37}]},"mark":{"type":"rule","color":"#999","strokeWidth":1,"x2Offset":13},"encoding":{"x2":{"field":"g2"}}},
     {"data":{"values":[{"g":"Grn⁻/⁻, f","bw":37,"t":"****"}]},"mark":{"type":"text","color":"#888","fontSize":11,"baseline":"middle","dy":3},"encoding":{"text":{"field":"t"}}}
    ]},
   {"width":63,"height":115,"title":{"text":"B\u00a0\u00a0\u00a0\u00a0\u00a0Organ weights","anchor":"start","frame":"group","dx":69,"offset":33},"data":{"values":[{"a":1}]},"mark":{"type":"point","opacity":0},"encoding":{}},
   {"width":109,"height":115,
    "title":{"text":"12-15 months","anchor":"middle","frame":"group","dx":14,"offset":3},
    "data":{"name":"organ"},
    "encoding":{
     "x":{"field":"organ","type":"nominal","scale":{"domain":["Heart","Liver","Spleen","Kidneys"],"paddingInner":0,"paddingOuter":0},"axis":{"title":null,"labelAngle":-45,"labelFontSize":8}},
     "y":{"field":"v","type":"quantitative","scale":{"domain":[0,20,30,70],"range":[115,61.5,53.5,0],"nice":false,"zero":false},"axis":{"values":[0,5,10,15,20,30,40,50,60,70],"title":"Organ weight per BW (mg/g)","labelFontSize":8,"titleFontSize":10}}
    },
    "layer":[
     {"mark":{"type":"point","size":28,"strokeWidth":1,"shape":"circle","filled":false},
      "encoding":{
       "xOffset":{"field":"geno","type":"nominal","scale":{"domain":["Grn⁺/⁺","Grn⁻/⁻"],"paddingInner":0,"paddingOuter":0.36}},
       "color":{"field":"geno","type":"nominal","scale":{"domain":["Grn⁺/⁺","Grn⁻/⁻"],"range":["#222","#e4393c"]},
         "legend":{"orient":"none","legendX":79,"legendY":4,"symbolType":"M-1,0A1,1 0 1,1 1,0A1,1 0 1,1 -1,0Z M-0.78,0A0.78,0.78 0 1,0 0.78,0A0.78,0.78 0 1,0 -0.78,0Z","symbolSize":60,"symbolStrokeWidth":0.5,"labelFontSize":11,"rowPadding":3,"title":null}}}},
     {"mark":{"type":"errorbar","extent":"stdev","ticks":{"size":7},"thickness":1.2},
      "encoding":{
       "xOffset":{"field":"geno","type":"nominal","scale":{"domain":["Grn⁺/⁺","Grn⁻/⁻"],"paddingInner":0,"paddingOuter":0.36}},
       "color":{"field":"geno","type":"nominal","scale":{"domain":["Grn⁺/⁺","Grn⁻/⁻"],"range":["#222","#e4393c"]}}}},
     {"transform":[{"aggregate":[{"op":"mean","field":"v","as":"v"}],"groupby":["organ","geno"]}],
      "mark":{"type":"tick","size":12,"thickness":1.5},
      "encoding":{
       "xOffset":{"field":"geno","type":"nominal","scale":{"domain":["Grn⁺/⁺","Grn⁻/⁻"],"paddingInner":0,"paddingOuter":0.36}},
       "color":{"field":"geno","type":"nominal"}}},
     {"data":{"values":[{"organ":"Liver","v":69,"t":"***"},{"organ":"Kidneys","v":32.7,"t":"***"}]},
      "mark":{"type":"text","color":"#888","fontSize":11,"baseline":"middle","dy":3},"encoding":{"text":{"field":"t"}}}
    ]}
  ]},
  {"bounds":"flush","spacing":0,
   "resolve":{"scale":{"color":"independent","fill":"independent","stroke":"independent","shape":"independent"},"legend":{"color":"independent","fill":"independent","stroke":"independent","shape":"independent"}},
   "hconcat":[
   {"width":85,"height":125,"data":{"values":[{"a":1}]},"mark":{"type":"point","opacity":0},"encoding":{}},
   {"width":174,"height":125,
    "title":{"text":"C\u00a0\u00a0\u00a0\u00a0\u00a0\u00a0\u00a0Lickings IntelliCage",
     "subtitle":["\u200b\u00a0Free drinking\u00a0\u00a0\u00a0\u00a0\u00a0\u00a0\u00a0\u00a0\u00a0\u00a0Restricted drinking","\u200b\u00a0\u00a0\u00a0\u00a0\u00a0\u00a0\u00a0\u00a0\u00a0\u00a0\u00a0\u00a0\u00a0\u00a0\u00a0\u00a0\u00a0\u00a0\u00a0\u00a0\u00a0\u00a0\u00a0\u00a0\u00a0\u00a0\u00a0\u00a0\u00a0\u00a0\u00a0\u00a0\u00a0\u00a0\u00a0\u00a0\u00a0\u00a0\u00a0\u00a0\u00a0\u00a0\u00a0\u00a0times"],
     "anchor":"start","frame":"group","dx":12,"offset":-3,"subtitlePadding":9,"subtitleLineHeight":11},
    "data":{"name":"lick"},
    "transform":[{"window":[{"op":"row_number","as":"rn"}],"groupby":["g"]},{"window":[{"op":"percent_rank","as":"jit"}],"groupby":["g"],"sort":[{"field":"rn"}]}],
    "encoding":{
     "x":{"field":"g","type":"nominal","scale":{"type":"point","padding":0.9,"domain":["Grn⁺/⁺, Young, f|1","Grn⁻/⁻, Young, f|2","Grn⁺/⁺, Aged, f|3","Grn⁻/⁻, Aged, f|4","|sp","Grn⁺/⁺, Young, f|5","Grn⁻/⁻, Young, f|6","Grn⁺/⁺, Aged, f|7","Grn⁻/⁻, Aged, f|8"]},
       "axis":{"title":null,"values":["Grn⁺/⁺, Young, f|1","Grn⁻/⁻, Young, f|2","Grn⁺/⁺, Aged, f|3","Grn⁻/⁻, Aged, f|4","Grn⁺/⁺, Young, f|5","Grn⁻/⁻, Young, f|6","Grn⁺/⁺, Aged, f|7","Grn⁻/⁻, Aged, f|8"],"labelExpr":"split(datum.label,'|')[0]","labelAngle":-45,"labelFontSize":8}},
     "y":{"field":"v","type":"quantitative","scale":{"domain":[0,4200],"nice":false,"zero":true},"axis":{"values":[0,1000,2000,3000,4000],"title":"Lickings/d","labelFontSize":8,"titleFontSize":12}}
    },
    "layer":[
     {"mark":{"type":"point","size":50,"strokeWidth":1,"shape":"circle","opacity":1},
      "encoding":{
       "xOffset":{"field":"jit","type":"quantitative","scale":{"domain":[0,1],"range":[-7,7]}},
       "fill":{"field":"g","type":"nominal","scale":{"domain":["Grn⁺/⁺, Young, f|1","Grn⁻/⁻, Young, f|2","Grn⁺/⁺, Aged, f|3","Grn⁻/⁻, Aged, f|4","Grn⁺/⁺, Young, f|5","Grn⁻/⁻, Young, f|6","Grn⁺/⁺, Aged, f|7","Grn⁻/⁻, Aged, f|8"],"range":["transparent","transparent","#b5b5b5","#e8585b","transparent","transparent","#b5b5b5","#e8585b"]},"legend":null},
       "stroke":{"field":"g","type":"nominal","scale":{"domain":["Grn⁺/⁺, Young, f|1","Grn⁻/⁻, Young, f|2","Grn⁺/⁺, Aged, f|3","Grn⁻/⁻, Aged, f|4","Grn⁺/⁺, Young, f|5","Grn⁻/⁻, Young, f|6","Grn⁺/⁺, Aged, f|7","Grn⁻/⁻, Aged, f|8"],"range":["#222","#e4393c","#444","#c9302c","#222","#e4393c","#444","#c9302c"]},"legend":null}}},
     {"mark":{"type":"errorbar","extent":"stderr","ticks":{"size":6},"thickness":1.2,"color":"#111"}},
     {"transform":[{"aggregate":[{"op":"mean","field":"v","as":"v"}],"groupby":["g"]}],
      "mark":{"type":"tick","size":20,"thickness":2.2,"color":"#111"}},
     {"data":{"values":[{"g":"Grn⁺/⁺, Aged, f|3","v":3190,"v2":2850},{"g":"Grn⁺/⁺, Aged, f|7","v":2510,"v2":2180}]},
      "mark":{"type":"rule","color":"#999","strokeWidth":1},"encoding":{"y2":{"field":"v2"}}},
     {"data":{"values":[{"g":"Grn⁺/⁺, Aged, f|3","g2":"Grn⁺/⁺, Aged, f|3","v":3190},{"g":"Grn⁺/⁺, Aged, f|7","g2":"Grn⁺/⁺, Aged, f|7","v":2510}]},
      "mark":{"type":"rule","color":"#999","strokeWidth":1,"x2Offset":8},"encoding":{"x2":{"field":"g2"}}},
     {"data":{"values":[{"g":"Grn⁻/⁻, Aged, f|4","v":3190,"t":"****"},{"g":"Grn⁻/⁻, Aged, f|8","v":2510,"t":"****"}]},
      "mark":{"type":"text","color":"#888","fontSize":11,"baseline":"middle","dy":3,"dx":4},"encoding":{"text":{"field":"t"}}}
    ]},
   {"width":115,"height":125,"data":{"values":[{"a":1}]},"mark":{"type":"point","opacity":0},"encoding":{}},
   {"width":127,"height":125,
    "title":{"text":"D\u00a0\u00a0\u00a0\u00a0\u00a0\u00a0\u00a0\u00a0\u00a0Drinking volume",
     "subtitle":"\u200b\u00a0\u00a0\u00a0\u00a0\u00a0\u00a0\u00a0Free drinking\u00a0\u00a0\u00a0\u00a0\u00a0\u00a0\u00a0Restricted",
     "anchor":"start","frame":"group","dx":-10,"offset":4,"subtitlePadding":9},
    "data":{"name":"urine"},
    "transform":[{"window":[{"op":"row_number","as":"rn"}],"groupby":["g"]},{"window":[{"op":"percent_rank","as":"jit"}],"groupby":["g"],"sort":[{"field":"rn"}]}],
    "encoding":{
     "x":{"field":"g","type":"nominal","scale":{"type":"point","padding":0.5,"domain":["Grn+/+ free","Grn-/- free","Grn+/+ restr.","Grn-/- restr."]},"axis":{"title":null,"labelAngle":-45,"labelFontSize":8}},
     "y":{"field":"v","type":"quantitative","scale":{"domain":[0,6,8,12],"range":[125,32,22,0],"nice":false,"zero":false},"axis":{"values":[0,2,4,6,8,10,12],"title":"Urine volume/24h","labelFontSize":8,"titleFontSize":12}}
    },
    "layer":[
     {"mark":{"type":"point","size":20,"strokeWidth":1,"shape":"circle","fill":"transparent","opacity":1},
      "encoding":{
       "xOffset":{"field":"jit","type":"quantitative","scale":{"domain":[0,1],"range":[-8,8]}},
       "stroke":{"field":"g","type":"nominal","scale":{"domain":["Grn+/+ free","Grn-/- free","Grn+/+ restr.","Grn-/- restr."],"range":["#222","#e4393c","#222","#e4393c"]},"legend":null}}},
     {"mark":{"type":"errorbar","extent":"stdev","ticks":{"size":10},"thickness":1.2},
      "encoding":{"color":{"field":"g","type":"nominal","scale":{"domain":["Grn+/+ free","Grn-/- free","Grn+/+ restr.","Grn-/- restr."],"range":["#222","#c9302c","#222","#c9302c"]},"legend":null}}},
     {"transform":[{"aggregate":[{"op":"mean","field":"v","as":"v"}],"groupby":["g"]}],
      "mark":{"type":"tick","size":18,"thickness":1.5},
      "encoding":{"color":{"field":"g","type":"nominal","legend":null}}},
     {"data":{"values":[{"g":"Grn+/+ free","v":12.5,"v2":11.2}]},"mark":{"type":"rule","color":"#999","strokeWidth":1,"xOffset":6},"encoding":{"y2":{"field":"v2"}}},
     {"data":{"values":[{"g":"Grn+/+ restr.","v":3.6,"v2":3.0}]},"mark":{"type":"rule","color":"#999","strokeWidth":1,"xOffset":9},"encoding":{"y2":{"field":"v2"}}},
     {"data":{"values":[{"g":"Grn+/+ restr.","g2":"Grn+/+ restr.","v":3.6}]},"mark":{"type":"rule","color":"#999","strokeWidth":1,"xOffset":9,"x2Offset":20},"encoding":{"x2":{"field":"g2"}}},
     {"data":{"values":[{"g":"Grn-/- free","v":12.5,"t":"***"},{"g":"Grn-/- restr.","v":3.55,"t":"***"}]},
      "mark":{"type":"text","color":"#888","fontSize":11,"baseline":"middle","dy":3},"encoding":{"text":{"field":"t"}}}
    ]}
  ]}
 ]},
 {"bounds":"flush","spacing":0,
  "resolve":{"scale":{"color":"independent","fill":"independent","stroke":"independent","shape":"independent"},"legend":{"color":"independent","fill":"independent","stroke":"independent","shape":"independent"}},
  "hconcat":[
  {"width":1,"height":112,"title":{"text":"E\u00a0\u00a0\u00a0\u00a0\u00a0\u00a0\u00a0\u00a0\u00a0\u00a0\u00a0\u00a0\u00a0\u00a0\u00a0\u00a0\u00a0\u00a0\u00a0\u00a0\u00a0\u00a0\u00a0\u00a0\u00a0\u00a0\u00a0Phenomaster","anchor":"start","frame":"group","dx":6,"offset":35,"font":"Open Sans","fontSize":12},"data":{"values":[{"a":1}]},"mark":{"type":"point","opacity":0},"encoding":{}},
  {"width":114,"height":112,
   "title":{"text":"Feeding","font":"Open Sans","fontSize":12,"anchor":"middle","frame":"group","dx":-7,"offset":9},
   "data":{"name":"eFeed"},
   "transform":[{"window":[{"op":"row_number","as":"rn"}],"groupby":["age","geno"]},{"window":[{"op":"percent_rank","as":"jit"}],"groupby":["age","geno"],"sort":[{"field":"rn"}]}],
   "encoding":{
    "x":{"field":"age","type":"nominal","scale":{"type":"point","padding":0.5,"domain":["Young","Aged"]},"axis":{"title":null,"labelAngle":0,"labelFont":"Open Sans","labelFontSize":12}},
    "y":{"field":"v","type":"quantitative","scale":{"domain":[0,8],"nice":false},"axis":{"values":[0,2,4,6,8],"title":"Feeding/24d (g)","labelFontSize":9,"titleFontSize":10}}
   },
   "layer":[
    {"mark":{"type":"point","size":42,"strokeWidth":1,"opacity":1},
     "encoding":{
      "xOffset":{"field":"jit","type":"quantitative","scale":{"domain":[0,1],"range":[-16,16]}},
      "shape":{"field":"geno","type":"nominal","scale":{"domain":["Grn⁻/⁻","Grn⁺/⁺"],"range":["circle","triangle-up"]},"legend":{"orient":"none","legendX":4,"legendY":-2,"symbolSize":50,"labelFontSize":12,"rowPadding":5,"title":null}},
      "fill":{"field":"geno","type":"nominal","scale":{"domain":["Grn⁻/⁻","Grn⁺/⁺"],"range":["#e07b7b","transparent"]},"legend":{"orient":"none","legendX":4,"legendY":-2,"symbolSize":50,"labelFontSize":12,"rowPadding":5,"title":null}},
      "stroke":{"field":"geno","type":"nominal","scale":{"domain":["Grn⁻/⁻","Grn⁺/⁺"],"range":["#8b4a4a","#777"]},"legend":{"orient":"none","legendX":4,"legendY":-2,"symbolSize":50,"labelFontSize":12,"rowPadding":5,"title":null}}}},
    {"transform":[{"aggregate":[{"op":"mean","field":"v","as":"v"}],"groupby":["age","geno"]}],
     "mark":{"type":"tick","size":50,"thickness":1.2,"color":"#999"},"encoding":{"detail":{"field":"geno"}}},
    {"mark":{"type":"errorbar","extent":"stderr","ticks":{"size":6},"thickness":1.2},
     "encoding":{"color":{"field":"geno","type":"nominal","scale":{"domain":["Grn⁻/⁻","Grn⁺/⁺"],"range":["#c0392b","#222"]},"legend":null}}},
    {"data":{"values":[{"age":"Aged","v":7.6,"t":"***"}]},"mark":{"type":"text","color":"#888","fontSize":12,"baseline":"middle","dy":3},"encoding":{"text":{"field":"t"}}}
   ]},
  {"width":32,"height":112,"data":{"values":[{"a":1}]},"mark":{"type":"point","opacity":0},"encoding":{}},
  {"width":114,"height":112,
   "title":{"text":"Drinking","font":"Open Sans","fontSize":12,"anchor":"middle","frame":"group","dx":-3,"offset":9},
   "data":{"name":"eDrink"},
   "transform":[{"window":[{"op":"row_number","as":"rn"}],"groupby":["age","geno"]},{"window":[{"op":"percent_rank","as":"jit"}],"groupby":["age","geno"],"sort":[{"field":"rn"}]}],
   "encoding":{
    "x":{"field":"age","type":"nominal","scale":{"type":"point","padding":0.5,"domain":["Young","Aged"]},"axis":{"title":null,"labelAngle":0,"labelFont":"Open Sans","labelFontSize":12}},
    "y":{"field":"v","type":"quantitative","scale":{"domain":[0,12],"nice":false},"axis":{"values":[0,2,4,6,8,10,12],"title":"Drinking/24d (g)","labelFontSize":9,"titleFontSize":10}}
   },
   "layer":[
    {"mark":{"type":"point","size":42,"strokeWidth":1,"opacity":1},
     "encoding":{
      "xOffset":{"field":"jit","type":"quantitative","scale":{"domain":[0,1],"range":[-16,16]}},
      "shape":{"field":"geno","type":"nominal","scale":{"domain":["Grn⁻/⁻","Grn⁺/⁺"],"range":["circle","triangle-up"]},"legend":{"orient":"none","legendX":14,"legendY":-2,"symbolSize":50,"labelFontSize":12,"rowPadding":5,"title":null}},
      "fill":{"field":"geno","type":"nominal","scale":{"domain":["Grn⁻/⁻","Grn⁺/⁺"],"range":["#e07b7b","transparent"]},"legend":{"orient":"none","legendX":14,"legendY":-2,"symbolSize":50,"labelFontSize":12,"rowPadding":5,"title":null}},
      "stroke":{"field":"geno","type":"nominal","scale":{"domain":["Grn⁻/⁻","Grn⁺/⁺"],"range":["#8b4a4a","#777"]},"legend":{"orient":"none","legendX":14,"legendY":-2,"symbolSize":50,"labelFontSize":12,"rowPadding":5,"title":null}}}},
    {"transform":[{"aggregate":[{"op":"mean","field":"v","as":"v"}],"groupby":["age","geno"]}],
     "mark":{"type":"tick","size":50,"thickness":1.2,"color":"#999"},"encoding":{"detail":{"field":"geno"}}},
    {"mark":{"type":"errorbar","extent":"stderr","ticks":{"size":6},"thickness":1.2},
     "encoding":{"color":{"field":"geno","type":"nominal","scale":{"domain":["Grn⁻/⁻","Grn⁺/⁺"],"range":["#c0392b","#222"]},"legend":null}}},
    {"data":{"values":[{"age":"Aged","v":11.45,"t":"****"}]},"mark":{"type":"text","color":"#888","fontSize":12,"baseline":"middle","dy":3},"encoding":{"text":{"field":"t"}}}
   ]},
  {"width":40,"height":112,"title":{"text":"F\u00a0\u00a0\u00a0\u00a0\u00a0\u00a0\u00a0\u00a0\u00a0\u00a0\u00a0\u00a0\u00a0Phenomaster 18-22 months","anchor":"start","frame":"group","dx":38,"offset":36},"data":{"values":[{"a":1}]},"mark":{"type":"point","opacity":0},"encoding":{}},
  {"width":116,"height":111,
   "title":{"text":"Tap water","anchor":"middle","frame":"group","dx":-10,"offset":9},
   "data":{"name":"fTap"},
   "encoding":{
    "x":{"field":"cond","type":"nominal","scale":{"domain":["Drinking","Feeding"],"paddingInner":0.14,"paddingOuter":0.105},"axis":{"title":null,"labelAngle":0,"labelFont":"Open Sans","labelFontSize":12}},
    "xOffset":{"field":"geno","type":"nominal","scale":{"domain":["Grn+/+","Grn-/-"],"paddingInner":0.286,"paddingOuter":0}},
    "y":{"field":"v","type":"quantitative","scale":{"domain":[0,20],"nice":false},"axis":{"values":[0,5,10,15,20],"title":"Feed (g), Drink (ml)","labelFontSize":8,"titleFontSize":9}}
   },
   "layer":[
    {"mark":{"type":"bar","strokeWidth":1},
     "encoding":{
      "fill":{"field":"geno","type":"nominal","scale":{"domain":["Grn+/+","Grn-/-"],"range":["white","#e02424"]},"legend":{"orient":"none","legendX":15,"legendY":12,"symbolType":"M-1,-0.5H1V0.5H-1Z","symbolSize":120,"symbolStrokeColor":"#333","symbolStrokeWidth":1,"labelFontSize":8,"rowPadding":3,"title":null}},
      "stroke":{"field":"geno","type":"nominal","scale":{"domain":["Grn+/+","Grn-/-"],"range":["#333","#6b1515"]},"legend":null}}},
    {"mark":{"type":"rule","strokeWidth":1},"encoding":{"y2":{"field":"hi"},"stroke":{"field":"geno","type":"nominal","legend":null}}},
    {"mark":{"type":"tick","size":7,"thickness":1},"encoding":{"y":{"field":"hi","type":"quantitative","title":"Feed (g), Drink (ml)"},"color":{"field":"geno","type":"nominal","scale":{"domain":["Grn+/+","Grn-/-"],"range":["#333","#6b1515"]},"legend":null}}},
    {"data":{"values":[{"cond":"Drinking","geno":"Grn-/-","v":10.3,"t":"*"}]},"mark":{"type":"text","color":"#555","fontSize":13,"baseline":"middle","dy":3},"encoding":{"text":{"field":"t"}}}
   ]},
  {"width":29,"height":112,"data":{"values":[{"a":1}]},"mark":{"type":"point","opacity":0},"encoding":{}},
  {"width":118,"height":111,
   "title":{"text":"Sweet water","anchor":"middle","frame":"group","dx":-8,"offset":1},
   "data":{"name":"fSweet"},
   "encoding":{
    "x":{"field":"cond","type":"nominal","scale":{"domain":["Drinking","Feeding"],"paddingInner":0.14,"paddingOuter":0.105},"axis":{"title":null,"labelAngle":0,"labelFont":"Open Sans","labelFontSize":12}},
    "xOffset":{"field":"geno","type":"nominal","scale":{"domain":["Grn+/+","Grn-/-"],"paddingInner":0.286,"paddingOuter":0}},
    "y":{"field":"v","type":"quantitative","scale":{"domain":[0,20],"nice":false},"axis":{"values":[0,5,10,15,20],"title":"Feed (g), Drink (ml)","labelFontSize":8,"titleFontSize":9}}
   },
   "layer":[
    {"mark":{"type":"bar","strokeWidth":1},
     "encoding":{
      "fill":{"field":"geno","type":"nominal","scale":{"domain":["Grn+/+","Grn-/-"],"range":["white","#e02424"]},"legend":{"orient":"none","legendX":70,"legendY":24,"symbolType":"M-1,-0.5H1V0.5H-1Z","symbolSize":120,"symbolStrokeColor":"#333","symbolStrokeWidth":1,"labelFontSize":8,"rowPadding":3,"title":null}},
      "stroke":{"field":"geno","type":"nominal","scale":{"domain":["Grn+/+","Grn-/-"],"range":["#333","#6b1515"]},"legend":null}}},
    {"mark":{"type":"rule","strokeWidth":1},"encoding":{"y2":{"field":"hi"},"stroke":{"field":"geno","type":"nominal","legend":null}}},
    {"mark":{"type":"tick","size":7,"thickness":1},"encoding":{"y":{"field":"hi","type":"quantitative","title":"Feed (g), Drink (ml)"},"color":{"field":"geno","type":"nominal","scale":{"domain":["Grn+/+","Grn-/-"],"range":["#333","#6b1515"]},"legend":null}}},
    {"data":{"values":[{"cond":"Drinking","geno":"Grn-/-","v":21.8,"t":"*"}]},"mark":{"type":"text","color":"#555","fontSize":12,"baseline":"middle","dy":3},"encoding":{"text":{"field":"t"}}}
   ]}
 ]}
]
}
